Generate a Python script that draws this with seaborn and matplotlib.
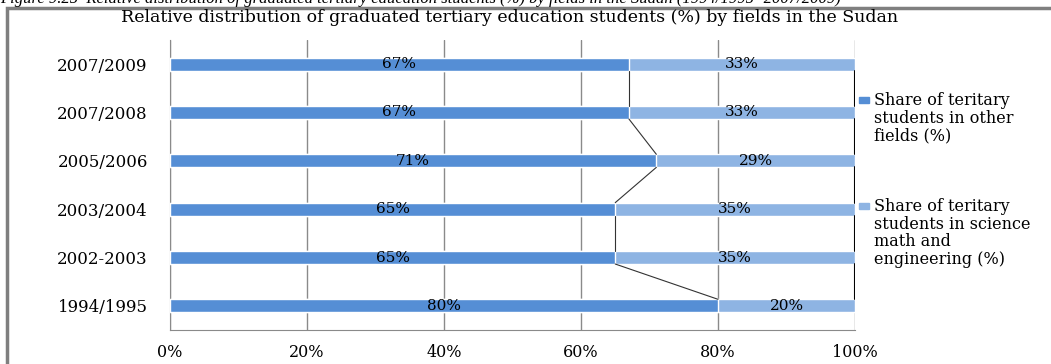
import numpy as np
import pandas as pd
import seaborn as sns
import matplotlib.pyplot as plt
from matplotlib.patches import Rectangle

# data (top to bottom)
years = ['2007/2009', '2007/2008', '2005/2006', '2003/2004', '2002-2003', '1994/1995']
other_fields = [67, 67, 71, 65, 65, 80]
science_math = [33, 33, 29, 35, 35, 20]

dark = '#558ED5'
light = '#8EB4E3'
grid_col = '#8A8A8A'

df = pd.DataFrame({'year': years, 'other': other_fields, 'science': science_math})
df['total'] = df['other'] + df['science']

sns.set_style('white')
plt.rcParams['font.family'] = ['DejaVu Serif']
plt.rcParams['text.color'] = 'black'
plt.rcParams['xtick.labelcolor'] = 'black'
plt.rcParams['ytick.labelcolor'] = 'black'

fig = plt.figure(figsize=(10.51, 3.64), dpi=100)
ax = fig.add_axes([170 / 1051, 1 - 330 / 364, 685 / 1051, 290 / 364])

bw = 0.27
# stacked: full bar in light, then the "other" share on top in dark
sns.barplot(data=df, y='year', x='total', color=light, orient='h', width=bw,
            saturation=1, ax=ax, zorder=3)
sns.barplot(data=df, y='year', x='other', color=dark, orient='h', width=bw,
            saturation=1, ax=ax, zorder=4)

# segment labels
for i, (o, s) in enumerate(zip(df['other'], df['science'])):
    ax.text(o / 2, i, f'{o}%', ha='center', va='center', fontsize=11, zorder=6)
    ax.text(o + s / 2, i, f'{s}%', ha='center', va='center', fontsize=11, zorder=6)

# series lines between bars
for i in range(len(df) - 1):
    ax.plot([df['other'][i], df['other'][i + 1]], [i + bw / 2, i + 1 - bw / 2],
            color='#333333', lw=0.8, zorder=5)
    ax.plot([df['total'][i], df['total'][i + 1]], [i + bw / 2, i + 1 - bw / 2],
            color='black', lw=1.5, zorder=5)

ax.set_xlim(0, 100)
ax.set_ylim(len(df) - 0.5, -0.5)
ax.set_xticks(np.arange(0, 101, 20))
ax.set_xticklabels([f'{v}%' for v in range(0, 101, 20)], fontsize=11.5)
ax.tick_params(axis='x', direction='out', length=6, color=grid_col, pad=4)
ax.tick_params(axis='y', length=0, pad=16, labelsize=12)
ax.set_xlabel('')
ax.set_ylabel('')
ax.grid(axis='x', color=grid_col, lw=1, zorder=0)
ax.set_axisbelow(True)
for sp in ['top', 'right']:
    ax.spines[sp].set_visible(False)
ax.spines['bottom'].set_color(grid_col)
ax.spines['left'].set_color(grid_col)

# chart title
fig.text(510 / 1051, 1 - 18 / 364, 'Relative distribution of graduated tertiary education students (%) by fields in the Sudan',
         ha='center', va='center', fontsize=12.5)

# cropped caption at the very top
fig.text(0.0, 1 + 1 / 364, 'Figure 9.25  Relative distribution of graduated tertiary education students (%) by fields in the Sudan (1994/1995- 2007/2009)',
         ha='left', va='center', fontsize=12, style='italic', family='Liberation Serif')

# chart frame
fig.patches.append(Rectangle((7 / 1051, -0.05), 1.2, 1 - 8 / 364 + 0.05, transform=fig.transFigure,
                             fill=False, edgecolor='#7F7F7F', lw=2.5, zorder=0))

# legend
leg_items = [(dark, 'Share of teritary\nstudents in other\nfields (%)', 100),
             (light, 'Share of teritary\nstudents in science\nmath and\nengineering (%)', 206)]
for col, lab, ypx in leg_items:
    fig.patches.append(Rectangle((859 / 1051, 1 - (ypx + 3) / 364), 10 / 1051, 6 / 364,
                                 transform=fig.transFigure, color=col))
    fig.text(874 / 1051, 1 - (ypx - 8) / 364, lab, ha='left', va='top', fontsize=11.5,
             linespacing=1.05)

fig.savefig('out.png', dpi=100)
